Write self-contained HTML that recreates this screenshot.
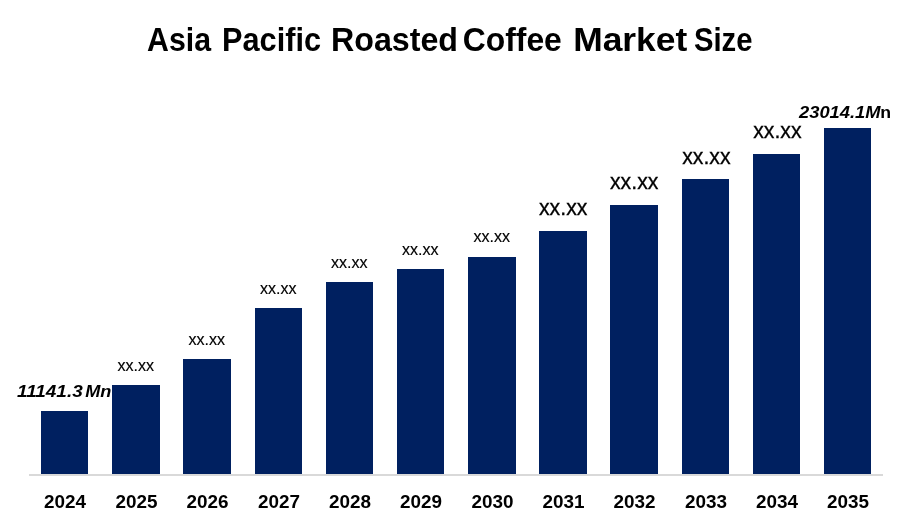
<!DOCTYPE html>
<html lang="en"><head><meta charset="utf-8"><title>Asia Pacific Roasted Coffee Market Size</title>
<style>
html,body{margin:0;padding:0;background:#fff;}
body{width:900px;height:525px;overflow:hidden;}
svg{display:block;}
text{font-family:"Liberation Sans",sans-serif;fill:#000;}
.t{font-weight:700;font-size:32.3px;}
.y{font-weight:700;font-size:17.6px;text-anchor:middle;}
.s{font-size:17.3px;text-anchor:middle;stroke:#000;stroke-width:.15px;}
.b{font-size:22px;text-anchor:middle;stroke:#000;stroke-width:.3px;}
.v{font-weight:700;font-style:italic;font-size:16.2px;}
.n{font-weight:700;font-size:16.2px;}
</style></head><body>
<svg width="900" height="525" viewBox="0 0 900 525">
<rect width="900" height="525" fill="#fff"/>
<text class="t" x="147" y="51.4" textLength="64.0" lengthAdjust="spacingAndGlyphs">Asia</text>
<text class="t" x="222" y="51.4" textLength="99.0" lengthAdjust="spacingAndGlyphs">Pacific</text>
<text class="t" x="331" y="51.4" textLength="127.0" lengthAdjust="spacingAndGlyphs">Roasted</text>
<text class="t" x="462.8" y="51.4" textLength="99.0" lengthAdjust="spacingAndGlyphs">Coffee</text>
<text class="t" x="573.2" y="51.4" textLength="114.1" lengthAdjust="spacingAndGlyphs">Market</text>
<text class="t" x="694" y="51.4" textLength="58.5" lengthAdjust="spacingAndGlyphs">Size</text>
<rect x="29" y="474" width="854" height="2" fill="#d9d9d9"/>
<rect x="41" y="411" width="47" height="63" fill="#002060"/>
<rect x="112" y="385" width="48" height="89" fill="#002060"/>
<rect x="183" y="359" width="48" height="115" fill="#002060"/>
<rect x="255" y="308" width="47" height="166" fill="#002060"/>
<rect x="326" y="282" width="47" height="192" fill="#002060"/>
<rect x="397" y="269" width="47" height="205" fill="#002060"/>
<rect x="468" y="257" width="48" height="217" fill="#002060"/>
<rect x="539" y="231" width="48" height="243" fill="#002060"/>
<rect x="610" y="205" width="48" height="269" fill="#002060"/>
<rect x="682" y="179" width="47" height="295" fill="#002060"/>
<rect x="753" y="154" width="47" height="320" fill="#002060"/>
<rect x="824" y="128" width="47" height="346" fill="#002060"/>
<text class="y" x="65.1" y="508" textLength="42" lengthAdjust="spacingAndGlyphs">2024</text>
<text class="y" x="136.6" y="508" textLength="42" lengthAdjust="spacingAndGlyphs">2025</text>
<text class="y" x="207.6" y="508" textLength="42" lengthAdjust="spacingAndGlyphs">2026</text>
<text class="y" x="279.1" y="508" textLength="42" lengthAdjust="spacingAndGlyphs">2027</text>
<text class="y" x="350.1" y="508" textLength="42" lengthAdjust="spacingAndGlyphs">2028</text>
<text class="y" x="421.1" y="508" textLength="42" lengthAdjust="spacingAndGlyphs">2029</text>
<text class="y" x="492.6" y="508" textLength="42" lengthAdjust="spacingAndGlyphs">2030</text>
<text class="y" x="563.6" y="508" textLength="42" lengthAdjust="spacingAndGlyphs">2031</text>
<text class="y" x="634.6" y="508" textLength="42" lengthAdjust="spacingAndGlyphs">2032</text>
<text class="y" x="706.1" y="508" textLength="42" lengthAdjust="spacingAndGlyphs">2033</text>
<text class="y" x="777.1" y="508" textLength="42" lengthAdjust="spacingAndGlyphs">2034</text>
<text class="y" x="848.1" y="508" textLength="42" lengthAdjust="spacingAndGlyphs">2035</text>
<text class="s" x="135.8" y="371" textLength="36.6" lengthAdjust="spacingAndGlyphs">xx.xx</text>
<text class="s" x="206.8" y="345" textLength="36.6" lengthAdjust="spacingAndGlyphs">xx.xx</text>
<text class="s" x="278.3" y="294" textLength="36.6" lengthAdjust="spacingAndGlyphs">xx.xx</text>
<text class="s" x="349.3" y="268" textLength="36.6" lengthAdjust="spacingAndGlyphs">xx.xx</text>
<text class="s" x="420.3" y="255" textLength="36.6" lengthAdjust="spacingAndGlyphs">xx.xx</text>
<text class="s" x="491.8" y="242.4" textLength="36.6" lengthAdjust="spacingAndGlyphs">xx.xx</text>
<text class="b" x="563.2" y="215" textLength="48.4" lengthAdjust="spacingAndGlyphs">xx.xx</text>
<text class="b" x="634.2" y="189" textLength="48.4" lengthAdjust="spacingAndGlyphs">xx.xx</text>
<text class="b" x="706.4" y="163.5" textLength="48.4" lengthAdjust="spacingAndGlyphs">xx.xx</text>
<text class="b" x="777.4" y="138" textLength="48.4" lengthAdjust="spacingAndGlyphs">xx.xx</text>
<text class="v" x="17" y="397" textLength="65.7" lengthAdjust="spacingAndGlyphs">11141.3</text>
<text class="v" x="85.2" y="397" textLength="26.2" lengthAdjust="spacingAndGlyphs">Mn</text>
<text class="v" x="799" y="117.8" textLength="81.5" lengthAdjust="spacingAndGlyphs">23014.1M</text>
<text class="n" x="880.3" y="117.8" textLength="10.8" lengthAdjust="spacingAndGlyphs">n</text>
</svg></body></html>
